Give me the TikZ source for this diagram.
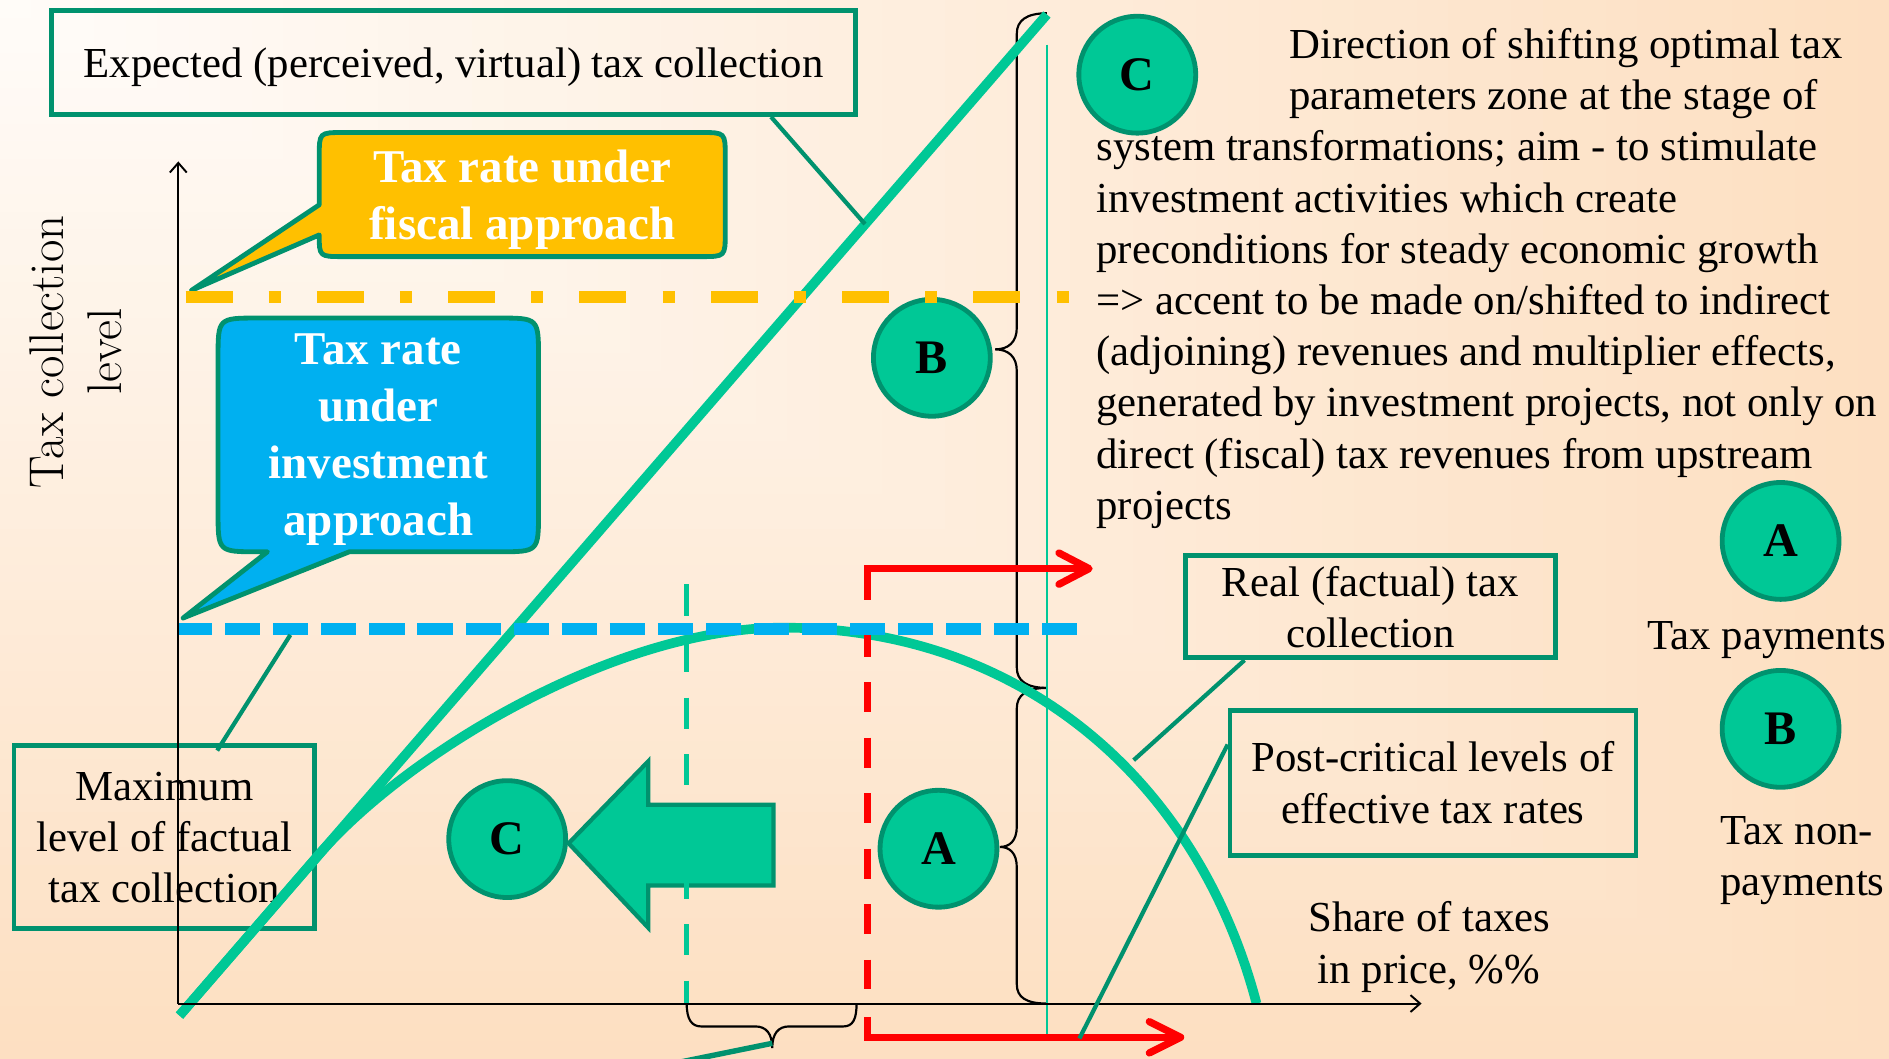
\documentclass[tikz,border=0pt]{standalone}
\usepackage{fontspec}
\newfontfamily\tnr{Liberation Serif}
\usetikzlibrary{arrows.meta}
\definecolor{gfill}{RGB}{0,200,150}
\definecolor{gdark}{RGB}{0,146,110}
\definecolor{ylw}{RGB}{255,192,0}
\definecolor{blu}{RGB}{0,176,240}
\definecolor{redc}{RGB}{255,0,0}
\definecolor{bgA}{RGB}{255,252,249}
\definecolor{bgB}{RGB}{253,223,193}
\begin{document}
\begin{tikzpicture}[x=1pt,y=-1pt,
  nfont/.style={font=\tnr\fontsize{35.5pt}{42.5pt}\selectfont},
  bfont/.style={font=\tnr\bfseries\fontsize{39pt}{47.5pt}\selectfont},
  boxframe/.style={draw=gdark,line width=4pt,inner sep=0pt},
  boxtext/.style={nfont,align=center,inner sep=0pt},
  calltext/.style={bfont,align=center,inner sep=0pt,text=white},
  linetext/.style={nfont,inner sep=0pt,anchor=base west},
  centertext/.style={nfont,inner sep=0pt,anchor=base},
  badge/.style={circle,draw=gdark,fill=gfill,line width=4pt,minimum size=97pt,inner sep=0pt,font=\tnr\bfseries\fontsize{40pt}{40pt}\selectfont},
  conn/.style={draw=gdark,line width=3.5pt},
  axisline/.style={line width=1.6pt,-{Straight Barb[length=8pt,width=14pt]}},
  bracepath/.style={draw=black,line width=1.8pt},
  redline/.style={draw=redc,line width=6pt},
  chev/.style={draw=redc,line width=6pt,line cap=round,line join=round},
  tealline/.style={draw=gfill,line width=8pt},
]
\useasboundingbox (0,0) rectangle (1568,879);
% background gradient from top-left corner
\foreach \i in {60,59,...,1}{
  \pgfmathtruncatemacro\p{round((\i-0.5)*100/60)}
  \pgfmathsetmacro\wx{1568/60*\i}
  \pgfmathsetmacro\hy{879/60*\i}
  \fill[bgB!\p!bgA] (0,0) rectangle (\wx,\hy);
}

% boxes with frames
\node[boxframe,minimum width=249.5pt,minimum height=152pt] (maxbox) at (136.3,695) {};
\node[boxtext] (maxtxt) at (136.5,698.5) {\strut Maximum\\level of factual\\tax collection\strut};
\node[boxframe,minimum width=667pt,minimum height=86pt] (expbox) at (376.5,52) {};
\node[boxtext] (exptxt) at (376.5,55.5) {\strut Expected (perceived, virtual) tax collection};
\node[boxframe,minimum width=307pt,minimum height=85pt] (realbox) at (1137.5,503.5) {};
\node[boxtext] (realtxt) at (1137.5,508) {\strut Real (factual) tax\\collection\strut};
\node[boxframe,minimum width=337pt,minimum height=120pt] (postbox) at (1189.5,650) {};
\node[boxtext] (posttxt) at (1189.5,653.5) {\strut Post-critical levels of\\effective tax rates\strut};

% callouts
\path[fill=ylw,draw=gdark,line width=4pt,line join=round]
  (265,170) -- (265,130) .. controls (265,110) .. (285,110) -- (582,110)
  .. controls (602,110) .. (602,130) -- (602,193) .. controls (602,213) .. (582,213)
  -- (285,213) .. controls (265,213) .. (265,195) -- (159,241) -- cycle;
\node[calltext] (ytxt) at (433.5,165.5) {\strut Tax rate under\\fiscal approach\strut};
\path[fill=blu,draw=gdark,line width=4pt,line join=round]
  (222,458) -- (152,513) -- (290,458) -- (414,458) .. controls (447,458) .. (447,425)
  -- (447,297) .. controls (447,264) .. (414,264) -- (214,264) .. controls (181,264) .. (181,297)
  -- (181,425) .. controls (181,458) .. (214,458) -- cycle;
\node[calltext] (btxt) at (314,364) {\strut Tax rate\\under\\investment\\approach\strut};

% braces
\coordinate (brT) at (869,11);
\coordinate (brM) at (869,571);
\coordinate (brB) at (869,833);
\draw[bracepath] (brT) .. controls (852,11) and (844,17) .. (844,28) -- (844,272)
  .. controls (844,284) and (837,290) .. (826,290) .. controls (837,290) and (844,296) .. (844,308)
  -- (844,554) .. controls (844,565) and (852,571) .. (brM);
\draw[bracepath] (brM) .. controls (852,571) and (844,577) .. (844,588) -- (844,686)
  .. controls (844,698) and (838,703) .. (830,703) .. controls (838,703) and (844,708) .. (844,720)
  -- (844,817) .. controls (844,828) and (852,833) .. (brB);
\draw[bracepath] (570,833) .. controls (570,846) and (574,852) .. (582,852) -- (627,852)
  .. controls (636,852) and (641,858) .. (641,870) .. controls (641,858) and (646,852) .. (655,852)
  -- (700,852) .. controls (708,852) and (711,846) .. (711,833);

% thin vertical green line
\coordinate (vgT) at (869,37);
\coordinate (vgB) at (869,861);
\draw[gfill,line width=2pt] (vgT) -- (vgB);

% expected line and real curve
\coordinate (d0) at (149,843);
\coordinate (d1) at (869,12);
\draw[tealline] (d0) -- (d1);
\draw[tealline] (d0) -- (265,709) .. controls (337,626) and (510,521) .. (650,521)
  .. controls (850,521) and (995,650) .. (1043,833);

% badges
\node[badge] (cTop) at (944,62) {C};
\node[badge] (bMid) at (773.5,297) {B};
\node[badge] (aMid) at (779,704.5) {A};
\node[badge] (cLow) at (421,696.5) {C};
\node[badge] (aKey) at (1478,449) {A};
\node[badge] (bKey) at (1478,605) {B};

% block arrow pointing left
\draw[fill=gfill,draw=gdark,line width=3.5pt] (472,700) -- (538,632) -- (538,668) -- (642,668)
  -- (642,735) -- (538,735) -- (538,770) -- cycle;

% green dashed vertical
\coordinate (gvT) at (570,485);
\coordinate (gvB) at (570,833);
\draw[gfill,line width=4pt,dash pattern=on 26pt off 21pt] (gvT) -- (gvB);

% red lines and arrows
\coordinate (rTop) at (720,472);
\coordinate (rTopTip) at (904,472);
\draw[redline] (720,498) -- (rTop) -- (900,472);
\draw[chev] (879,459) -- (rTopTip) -- (879,485);
\draw[redline,dash pattern=on 25pt off 21.1pt] (720,520) -- (720,821);
\coordinate (rBot) at (720,861);
\coordinate (rBotTip) at (980,861);
\draw[redline] (720,844) -- (rBot) -- (976,861);
\draw[chev] (954,848) -- (rBotTip) -- (954,874);

% orange and blue dashed levels
\coordinate (oL) at (154,246.5);
\coordinate (oR) at (890,246.5);
\draw[ylw,line width=10pt,dash pattern=on 39pt off 30pt on 10pt off 30pt] (oL) -- (oR);
\coordinate (bL) at (147,522);
\coordinate (bR) at (894,522);
\draw[blu,line width=10pt,dash pattern=on 29.2pt off 10.7pt] (bL) -- (bR);

% axes
\coordinate (O) at (148,833);
\coordinate (yTip) at (148,134);
\coordinate (xTip) at (1180,833);
\draw[axisline] (O) -- (yTip);
\draw[axisline] (O) -- (xTip);

% connectors
\coordinate (expC) at (718,186);
\draw[conn] ([xshift=-72pt]expbox.south east) -- (expC);
\coordinate (maxC) at (241,527);
\draw[conn] (maxC) -- ([xshift=44pt,yshift=-6pt]maxbox.north);
\coordinate (realC) at (941,631);
\draw[conn] ([xshift=-104.5pt]realbox.south) -- (realC);
\coordinate (postC) at (896,862);
\draw[conn] ([yshift=32pt]postbox.west) -- (postC);
\coordinate (bbCusp) at (641,866);
\coordinate (bbEnd) at (560,882.5);
\draw[conn,line width=4.5pt] (bbCusp) -- (bbEnd);

% axis label
\node[font=\rmfamily\fontsize{40.5pt}{48.4pt}\selectfont,align=center,inner sep=0pt,rotate=90] (ylab) at (67.1,292) {\strut Tax collection\\level\strut};

% legend and axis texts
\node[centertext] (taxpay) at (1466.5,539) {Tax payments};
\node[linetext] (taxnonA) at (1428,701) {Tax non-};
\node[linetext] (taxnonB) at (1428,743) {payments};
\node[centertext] (shareA) at (1186.5,773.5) {Share of taxes};
\node[centertext] (shareB) at (1186,816.5) {in price, \%\%};

% right text block
\node[linetext] (tA) at (1070,48.5) {Direction of shifting optimal tax};
\node[linetext] (tB) at (1070,91) {parameters zone at the stage of};
\node[linetext] (tC) at (910,133.5) {system transformations; aim - to stimulate};
\node[linetext] (tD) at (910,176) {investment activities which create};
\node[linetext] (tE) at (910,218.5) {preconditions for steady economic growth};
\node[linetext] (tF) at (910,261) {=> accent to be made on/shifted to indirect};
\node[linetext] (tG) at (910,303.5) {(adjoining) revenues and multiplier effects,};
\node[linetext] (tH) at (910,346) {generated by investment projects, not only on};
\node[linetext] (tI) at (910,388.5) {direct (fiscal) tax revenues from upstream};
\node[linetext] (tJ) at (910,431) {projects};
\end{tikzpicture}
\end{document}
